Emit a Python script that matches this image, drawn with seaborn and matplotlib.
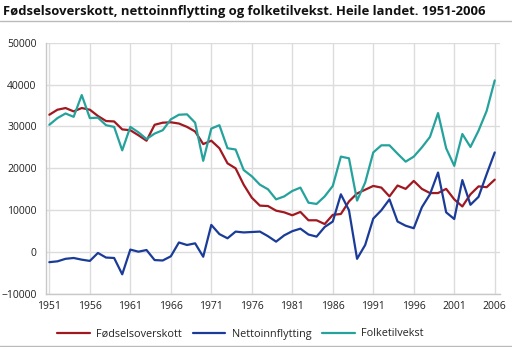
import numpy as np
import pandas as pd
import matplotlib
matplotlib.use("Agg")
import matplotlib.pyplot as plt
from matplotlib.lines import Line2D
import seaborn as sns

years = list(range(1951, 2007))

fodselsoverskott = [
    32800, 34000, 34400, 33600, 34400, 34000, 32500, 31300, 31200, 29300,
    29100, 27900, 26600, 30400, 30900, 31000, 30700, 29900, 28800, 25800,
    26600, 24800, 21200, 20000, 16100, 13000, 11100, 11000, 9900, 9500,
    8800, 9600, 7600, 7600, 6700, 8900, 9100, 12100, 14000, 14900,
    15800, 15400, 13300, 15900, 15100, 17000, 15100, 14100, 14100, 15100,
    12600, 10900, 13800, 15700, 15500, 17300,
]

nettoinnflytting = [
    -2400, -2200, -1600, -1400, -1800, -2100, -200, -1300, -1400, -5300,
    600, 100, 500, -1900, -2000, -1000, 2300, 1700, 2100, -1100,
    6500, 4300, 3300, 4900, 4700, 4800, 4900, 3800, 2500, 4000,
    5000, 5600, 4200, 3700, 6000, 7300, 13800, 10000, -1600, 1700,
    8000, 10000, 12600, 7300, 6300, 5700, 10700, 13800, 19000, 9500,
    7900, 17200, 11300, 13200, 18600, 23800,
]

folketilvekst = [
    30400, 32000, 33100, 32300, 37500, 32000, 32100, 30300, 29900, 24300,
    29900, 28600, 27000, 28300, 29100, 31700, 32800, 32900, 30900, 21800,
    29500, 30300, 24800, 24500, 19600, 18100, 16100, 15000, 12600, 13300,
    14600, 15400, 11800, 11500, 13300, 15800, 22800, 22400, 12300, 16600,
    23800, 25500, 25500, 23500, 21600, 22800, 25000, 27500, 33200, 24800,
    20600, 28200, 25100, 29000, 33700, 41000,
]

series_names = ["Fødselsoverskott", "Nettoinnflytting", "Folketilvekst"]
colors = ["#a01820", "#1a3c98", "#26a29d"]

df = pd.concat([
    pd.DataFrame({"År": years, "Personar": vals, "Serie": name})
    for name, vals in zip(series_names, [fodselsoverskott, nettoinnflytting, folketilvekst])
])

sns.set_theme(style="white")
plt.rcParams["font.family"] = ["Open Sans", "DejaVu Sans"]

fig = plt.figure(figsize=(5.12, 3.47), dpi=100)
ax = fig.add_axes([45.7 / 512, 1 - 294 / 347, (500 - 45.7) / 512, (294 - 42.7) / 347])

sns.lineplot(data=df, x="År", y="Personar", hue="Serie", hue_order=series_names,
             palette=colors, linewidth=1.6, ax=ax, legend=False)

ax.set_xlim(1950.55, 2006.65)
ax.set_ylim(-10000, 50000)
ax.set_xticks(list(range(1951, 2007, 5)))
ax.set_yticks(list(range(-10000, 50001, 10000)))
ax.tick_params(axis="both", labelsize=7.5, colors="#222222", length=0)
ax.tick_params(axis="y", pad=6.5)
ax.tick_params(axis="x", pad=5)
ax.grid(True, color="#dcdcdc", linewidth=1.0)
ax.set_axisbelow(True)
ax.set_xlabel("")
ax.set_ylabel("")
for side in ["top", "right"]:
    ax.spines[side].set_visible(False)
for side in ["left", "bottom"]:
    ax.spines[side].set_color("#c8c8c8")
    ax.spines[side].set_linewidth(1.0)

fig.text(3 / 512, 1 - 12 / 347, "Fødselsoverskott, nettoinnflytting og folketilvekst. Heile landet. 1951-2006",
         fontsize=9.4, fontweight="bold", va="center", ha="left", color="#111111")

# separator rules under the title and below the legend
fig.add_artist(Line2D([0, 1], [1 - 20.5 / 347] * 2, color="#bbbbbb", linewidth=1.0))
fig.add_artist(Line2D([0, 1], [1 - 346 / 347] * 2, color="#bbbbbb", linewidth=1.0))

handles = [Line2D([], [], color=c, linewidth=1.6) for c in colors]
fig.legend(handles, series_names, loc="center", bbox_to_anchor=(0.47, 1 - 334 / 347),
           ncol=3, frameon=False, fontsize=7.8, handlelength=3.0, columnspacing=1.0,
           handletextpad=0.6)

fig.savefig("out.png", dpi=100)
